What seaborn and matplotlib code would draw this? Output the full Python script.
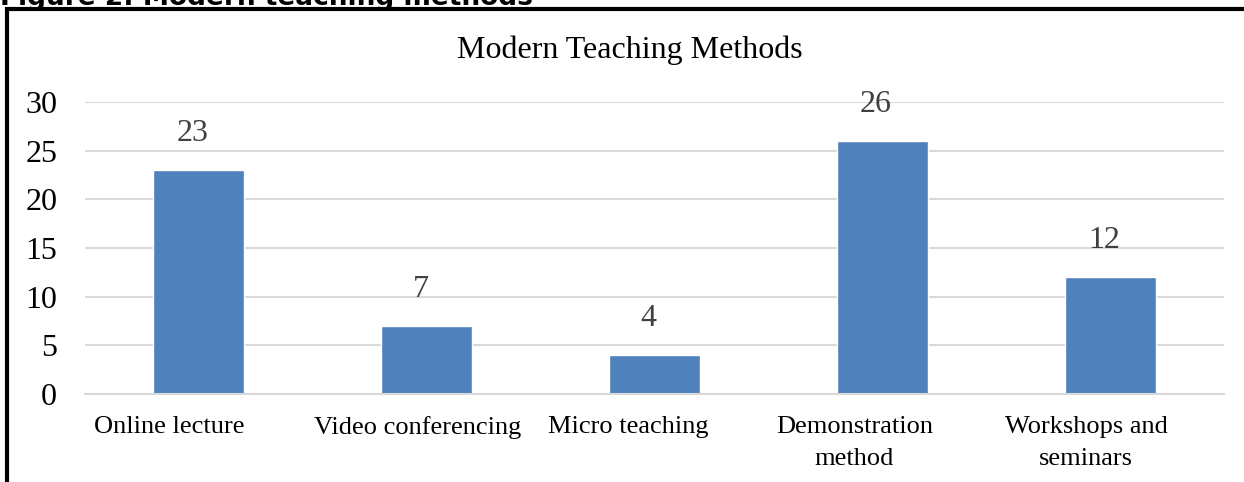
import matplotlib
matplotlib.use("Agg")
import matplotlib.pyplot as plt
import matplotlib.patches as mpatches
import matplotlib.transforms as mtransforms
import pandas as pd
import seaborn as sns

METHODS = [
    "Online lecture",
    "Video conferencing",
    "Micro teaching",
    "Demonstration\nmethod",
    "Workshops and\nseminars",
]
COUNTS = [23, 7, 4, 26, 12]
Y_TICKS = [0, 5, 10, 15, 20, 25, 30]

BAR_COLOR = "#4F81BD"
GRID_COLOR = "#D9D9D9"
# Excel nudges the category labels a little to the left (pixels)
LABEL_SHIFT = [-30, -9, -26, -28, -24]

df = pd.DataFrame({"method": METHODS, "count": COUNTS})

sns.set_theme(style="white")
plt.rcParams["font.family"] = ["Liberation Serif", "DejaVu Serif"]

W, H = 1244, 482
fig = plt.figure(figsize=(W / 100, H / 100), dpi=100)
ax = fig.add_axes([85 / W, 1 - 394 / H, (1224 - 85) / W, (394 - 102) / H])

sns.barplot(data=df, x="method", y="count", color=BAR_COLOR, width=0.4,
            saturation=1, ax=ax, zorder=3)

ax.set_xlim(-0.5, len(METHODS) - 0.5)
ax.set_ylim(0, 30)
ax.set_yticks(Y_TICKS)
ax.yaxis.grid(True, color=GRID_COLOR, linewidth=1.5, zorder=0)
ax.xaxis.grid(False)
for side in ["top", "right", "left"]:
    ax.spines[side].set_visible(False)
ax.spines["bottom"].set_color(GRID_COLOR)
ax.spines["bottom"].set_linewidth(1.5)
ax.spines["bottom"].set_zorder(4)
ax.tick_params(axis="y", labelsize=23, length=0, pad=20, colors="black")
ax.tick_params(axis="x", labelsize=19, length=0, pad=16, colors="black")
for lab, dx in zip(ax.get_xticklabels(), LABEL_SHIFT):
    lab.set_linespacing(1.55)
    lab.set_transform(lab.get_transform()
                      + mtransforms.ScaledTranslation(dx / 100, 0, fig.dpi_scale_trans))
ax.set_xlabel("")
ax.set_ylabel("")

for c in ax.containers:
    for ann in ax.bar_label(c, fmt="%d", padding=16, fontsize=23, color="#404040"):
        ann.xyann = (-4.5, ann.xyann[1])

fig.text(630 / W, 1 - 50 / H, "Modern Teaching Methods", ha="center", va="center",
         fontsize=23, color="black")

# caption cut off at the top edge
fig.text(0, 1 - 5 / H, "Figure 2: Modern teaching methods", ha="left", va="baseline",
         fontsize=19, fontweight="bold", family=["DejaVu Sans"], color="black")

# frame around the chart (only top and left edges are in view)
fig.patches.append(mpatches.Rectangle((6.5 / W, -0.1), 1.1, 1.1 - 9 / H,
                                      transform=fig.transFigure, fill=False,
                                      edgecolor="black", linewidth=3))

fig.savefig("out.png", dpi=100)
